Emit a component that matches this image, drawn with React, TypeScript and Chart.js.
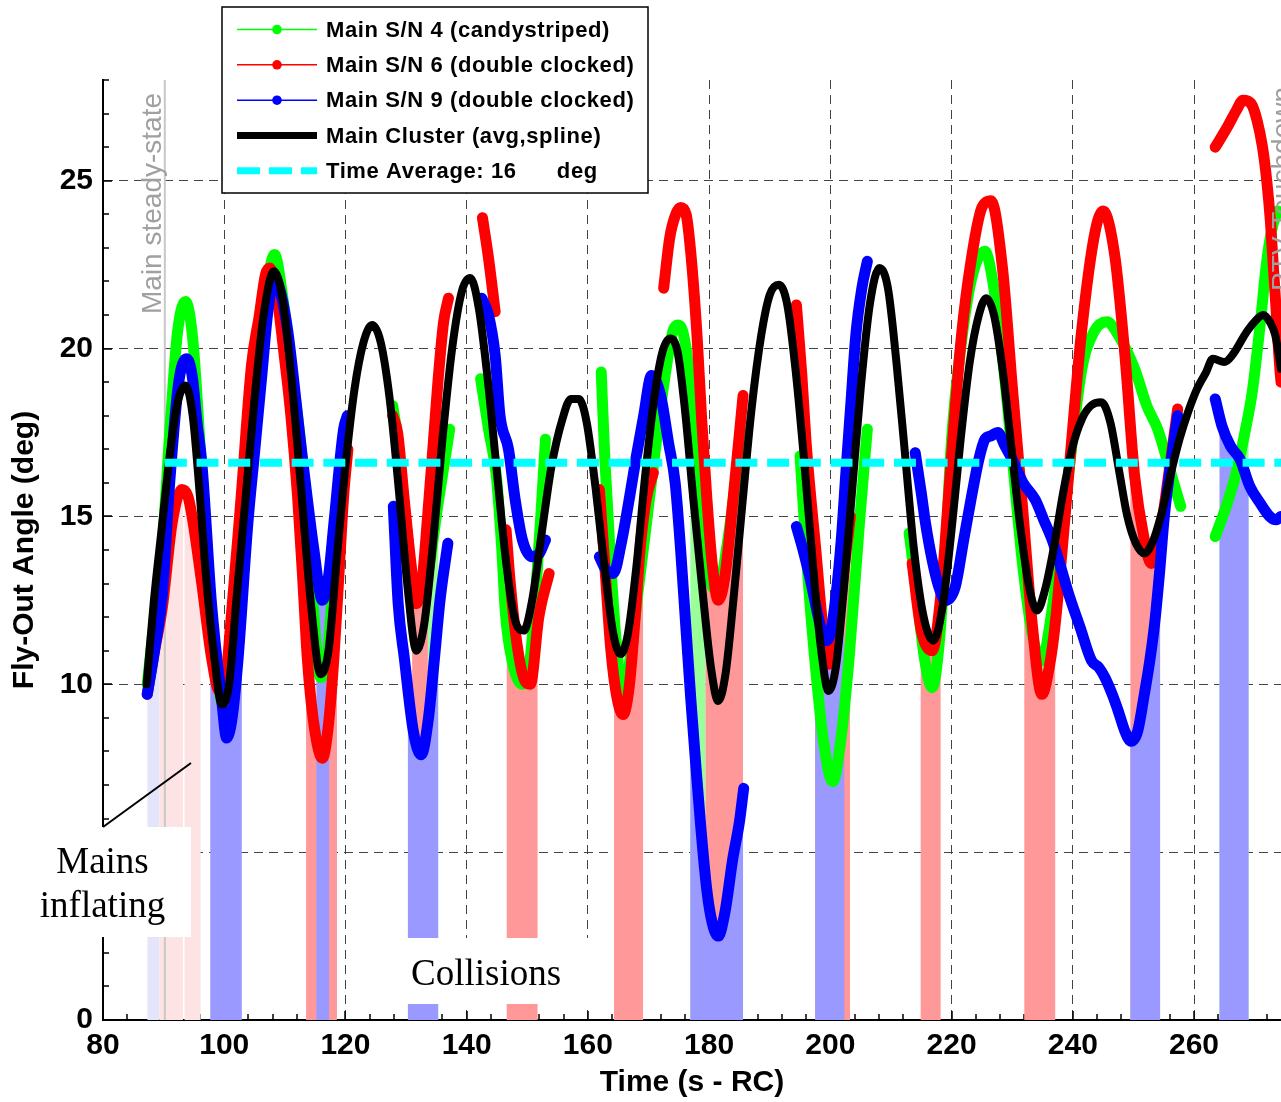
import React, { useEffect, useRef } from 'react';
import { Chart, registerables } from 'chart.js';

type Pt = [number, number];
type Win = [number, number];

// ---------- axes ----------
const X_MIN = 80;
const X_MAX = 274.35;
const Y_MIN = 0;
const Y_MAX = 28;
const X_MAJOR_STEP = 20;
const X_MINOR_STEP = 4;
const Y_MAJOR_STEP = 5;
const Y_MINOR_STEP = 1;
const X_TITLE = 'Time (s - RC)';
const Y_TITLE = 'Fly-Out Angle (deg)';

// ---------- reference lines ----------
const TIME_AVERAGE = 16.6;
const TIME_AVERAGE_RANGE: Win = [90.2, 274.35];
const STEADY_STATE_TIME = 90.2;

// ---------- Main S/N 4 (candystriped) ----------
const SN4_SEGMENTS: Pt[][] = [
  [[87.3,10.0],[88.5,12.0],[89.8,14.2],[91.2,18.0],[92.3,20.5],[93.6,21.4],[94.8,20.3],[96.3,16.3],[97.7,12.5],[99.0,10.0],[100.4,9.2],[101.5,9.8],[102.5,11.5],[103.9,15.6],[105.3,18.8],[106.8,21.5],[108.3,22.8],[109.6,21.6],[111.0,19.5],[112.6,17.2],[114.4,13.0],[115.9,10.2],[117.0,10.8],[118.5,14.5],[120.0,17.8]],
  [[127.8,18.3],[128.7,17.2],[129.7,15.3],[131.0,13.2],[132.0,12.5],[133.5,13.2],[135.3,15.4],[137.2,17.6]],
  [[142.3,19.1],[143.6,17.6],[144.9,16.2],[145.8,14.0],[146.4,12.1],[147.5,10.7],[149.2,10.0],[150.5,10.8],[151.5,13.0],[152.4,15.5],[153.0,17.3]],
  [[162.2,19.3],[162.8,16.7],[163.6,14.1],[164.7,11.2],[165.8,9.7],[167.0,10.8],[168.3,12.8],[169.2,14.1],[170.8,16.5],[172.5,18.9],[174.0,20.5],[174.8,20.7],[175.8,20.4],[176.9,18.9],[178.0,16.0],[179.0,14.2],[180.3,13.0],[181.5,12.8],[183.0,14.2],[184.5,16.2],[185.6,17.5]],
  [[195.0,16.8],[196.3,13.2],[197.4,10.8],[198.8,8.4],[200.4,7.1],[201.7,8.3],[203.1,10.8],[204.8,14.8],[206.1,17.6]],
  [[213.0,14.5],[214.0,13.1],[215.5,10.8],[216.8,9.9],[218.0,11.3],[219.0,14.0],[220.0,17.3],[221.5,20.0],[223.2,22.0],[225.5,22.9],[226.8,22.0],[228.9,18.9],[230.3,16.2],[231.7,13.6],[233.3,11.5],[234.9,10.7],[236.4,12.0],[238.2,14.5],[239.9,17.2],[241.5,19.4],[243.5,20.5],[245.6,20.8],[247.5,20.4],[250.2,19.4],[252.2,18.3],[254.0,17.6],[256.0,16.4],[257.8,15.3]],
  [[263.5,14.4],[265.5,15.4],[267.1,16.4],[268.5,17.6],[269.6,18.7],[270.9,20.7],[272.0,22.6],[272.9,23.6],[273.8,24.1]],
];

// ---------- Main S/N 6 (double clocked) ----------
const SN6_SEGMENTS: Pt[][] = [
  [[87.3,9.7],[88.5,11.0],[89.8,12.3],[91.4,14.8],[93.0,15.8],[94.0,15.6],[94.7,15.0],[96.3,13.0],[97.9,10.8],[99.2,9.8],[100.0,9.9],[101.2,12.1],[102.8,15.6],[104.5,19.5],[105.8,21.0],[106.8,22.2],[107.5,22.4],[108.5,21.8],[109.9,19.8],[111.0,18.0],[112.1,15.6],[113.0,13.0],[113.7,10.8],[114.8,8.8],[116.2,7.8],[117.2,8.8],[118.1,10.8],[119.0,13.5],[119.7,15.6],[120.4,17.0]],
  [[127.8,18.0],[128.6,17.5],[129.7,15.5],[130.8,13.6],[131.7,12.4],[132.6,13.0],[133.6,15.1],[134.5,17.2],[135.3,19.1],[136.2,20.8],[137.0,21.5]],
  [[142.6,23.9],[143.6,22.7],[144.7,21.1]],
  [[146.5,14.6],[147.2,13.0],[148.3,11.2],[149.6,10.1],[150.5,10.0],[151.9,12.0],[153.6,13.3]],
  [[161.9,15.8],[162.8,13.5],[163.8,11.0],[164.8,9.6],[165.8,9.1],[166.8,9.9],[167.8,12.0],[168.6,14.0],[169.6,15.5],[170.8,16.3]],
  [[172.5,21.8],[173.5,23.3],[174.5,24.0],[175.3,24.2],[176.2,24.0],[177.0,22.8],[178.0,20.4],[178.8,17.8],[179.6,15.6],[180.5,13.6],[181.5,12.5],[182.6,13.2],[184.0,15.6],[185.6,18.6]],
  [[194.4,21.3],[195.3,19.2],[196.0,17.2],[197.6,14.0],[199.0,11.3],[199.8,10.6],[200.8,11.2],[202.0,13.0],[203.3,15.0]],
  [[213.5,13.6],[215.0,11.6],[216.8,11.0],[218.2,12.6],[219.5,15.6],[220.5,18.0],[221.7,20.5],[223.2,22.6],[225.0,24.2],[226.5,24.4],[228.4,22.4],[230.0,18.9],[231.7,15.3],[233.3,11.8],[234.9,9.7],[236.2,10.6],[237.1,11.8],[239.3,16.2],[241.5,20.6],[243.7,23.5],[245.0,24.1],[246.9,22.8],[248.6,19.8],[250.2,16.2],[251.8,14.3],[252.9,13.6],[254.0,14.0],[255.1,15.3],[257.3,18.2]],
  [[263.5,26.0],[265.5,26.6],[267.0,27.1],[268.1,27.4],[269.4,27.3],[270.4,26.8],[271.3,26.0],[272.0,25.0],[272.6,23.8],[273.1,22.4],[273.6,21.0],[274.0,19.8],[274.35,19.0]],
];

// ---------- Main S/N 9 (double clocked) ----------
const SN9_SEGMENTS: Pt[][] = [
  [[87.3,9.7],[88.5,11.0],[89.8,12.7],[91.0,16.0],[92.5,19.0],[93.8,19.7],[94.7,19.2],[95.5,17.8],[96.3,16.6],[97.9,12.4],[99.6,9.5],[100.4,8.4],[101.3,9.0],[102.3,10.8],[103.9,14.8],[105.0,16.9],[106.2,19.2],[107.2,21.1],[108.3,22.1],[109.4,21.6],[110.5,20.5],[112.6,17.2],[114.8,14.0],[116.2,12.5],[117.2,13.2],[118.1,14.8],[119.7,17.6],[120.3,18.0]],
  [[127.9,15.3],[128.7,12.4],[129.7,10.8],[131.2,8.6],[132.5,7.9],[133.7,9.0],[134.7,10.8],[135.6,12.5],[136.9,14.2]],
  [[142.5,21.5],[143.6,21.0],[144.7,19.8],[145.5,18.0],[146.9,17.0],[148.0,15.5],[149.2,14.3],[150.8,13.8],[152.0,13.9],[153.0,14.3]],
  [[161.9,13.8],[163.0,13.4],[164.2,13.3],[165.5,14.2],[166.9,15.6],[168.0,16.8],[169.2,18.0],[170.5,19.2],[172.0,18.6],[173.3,17.2],[174.4,16.0],[175.3,14.0],[176.2,11.6],[177.0,9.5],[177.8,7.6],[178.6,5.8],[179.6,3.9],[180.5,2.9],[181.5,2.5],[182.6,3.2],[183.9,4.8],[185.0,5.9],[185.7,6.9]],
  [[194.4,14.7],[195.5,14.0],[196.6,13.2],[198.7,11.5],[199.3,11.3],[200.0,11.5],[200.9,12.6],[201.8,14.3],[202.6,16.4],[203.4,18.4],[204.2,20.4],[205.2,21.8],[206.1,22.6]],
  [[214.0,16.9],[215.0,15.7],[215.7,14.8],[216.8,13.7],[217.9,12.9],[219.0,12.5],[220.6,12.9],[222.0,14.3],[223.3,15.6],[224.5,16.7],[225.5,17.3],[226.5,17.4],[227.6,17.5],[228.8,17.1],[230.0,16.7],[231.8,16.0],[233.8,15.5],[235.2,14.9],[236.6,14.3],[238.0,13.5],[239.3,12.7],[241.2,11.7],[243.1,10.7],[244.3,10.5],[245.3,10.2],[246.5,9.7],[247.5,9.2],[248.6,8.6],[249.6,8.3],[250.7,8.6],[251.8,9.7],[252.7,10.7],[253.5,11.8],[254.3,13.3],[255.1,15.0],[256.2,16.6],[257.3,18.0]],
  [[263.5,18.5],[264.6,17.7],[266.0,17.1],[267.6,16.7],[269.2,15.9],[270.9,15.4],[272.5,15.0],[273.5,14.9],[274.35,15.0]],
];

// ---------- Main Cluster (avg, spline) ----------
const CLUSTER_SPLINE: Pt[] = [
  [87.2,10.0],[88.4,12.5],[89.6,14.5],[91.0,16.8],[92.2,18.3],[93.6,18.9],[94.8,18.0],[95.9,15.8],[97.0,13.2],[98.3,10.9],[99.6,9.4],[100.8,10.0],[102.0,12.5],[103.5,15.5],[105.0,18.5],[106.5,21.0],[108.2,22.3],[109.6,21.5],[111.0,19.3],[112.6,16.0],[114.3,12.4],[115.9,10.3],[117.2,11.0],[118.6,13.8],[120.0,16.5],[121.5,18.8],[123.0,20.2],[124.4,20.7],[125.8,20.2],[127.3,18.5],[128.8,15.8],[130.3,12.8],[131.7,11.0],[133.0,11.8],[134.5,14.3],[136.0,17.3],[137.6,20.0],[139.2,21.7],[140.6,22.1],[142.0,21.2],[143.4,19.2],[145.0,16.3],[146.6,13.5],[148.0,11.9],[149.4,11.6],[150.8,12.5],[152.3,14.4],[154.0,16.5],[155.8,17.9],[157.2,18.5],[158.5,18.5],[159.8,17.8],[161.3,15.8],[162.8,13.4],[164.2,11.5],[165.4,10.9],[166.6,11.5],[168.0,13.5],[169.5,16.3],[171.0,18.6],[172.3,19.9],[173.6,20.3],[174.8,19.9],[176.0,18.2],[177.4,15.5],[178.9,12.8],[180.3,10.5],[181.5,9.5],[182.7,10.3],[184.0,12.5],[185.5,15.4],[187.0,18.2],[188.6,20.4],[190.0,21.6],[191.5,21.9],[192.9,21.3],[194.3,19.3],[195.8,16.4],[197.2,13.4],[198.5,11.0],[199.7,9.8],[200.9,10.5],[202.2,12.8],[203.6,15.8],[205.0,18.8],[206.5,21.3],[208.1,22.4],[209.5,21.8],[210.9,19.6],[212.4,16.7],[213.8,14.0],[215.4,12.0],[217.0,11.3],[218.5,12.3],[220.0,14.6],[221.5,17.3],[223.0,19.6],[224.5,21.0],[225.7,21.5],[227.0,21.0],[228.4,19.4],[229.9,17.0],[231.4,14.6],[232.9,12.8],[234.1,12.2],[235.4,12.8],[236.9,14.1],[238.4,15.7],[240.0,17.1],[241.5,17.9],[243.0,18.3],[244.7,18.4],[246.2,17.8],[247.6,16.4],[249.0,15.0],[250.4,14.2],[251.8,13.9],[253.3,14.3],[254.8,15.2],[256.2,16.3],[257.6,17.3],[259.0,18.1],[260.5,18.8],[262.0,19.3],[263.1,19.7],[265.0,19.6],[266.3,19.8],[268.7,20.5],[270.0,20.8],[271.4,21.0],[272.5,20.8],[273.4,20.4],[274.35,19.4],
];

// ---------- shaded time windows (area under each curve) ----------
const SN9_INFLATING_WINDOWS: Win[] = [[86.9, 89.3]];
const SN6_INFLATING_WINDOWS: Win[] = [[89.3, 93.2], [93.45, 96.1]];
const SN6_COLLISION_WINDOWS: Win[] = [[113.5,118.6],[131.0,133.6],[146.6,151.7],[164.3,169.1],[179.4,185.6],[197.5,203.3],[214.9,218.2],[232.0,237.1],[249.5,254.4]];
const SN4_COLLISION_WINDOWS: Win[] = [[133.6,135.3],[176.9,179.4],[234.2,236.5],[264.2,269.0]];
const SN9_COLLISION_WINDOWS: Win[] = [[97.7,102.9],[115.2,117.3],[130.3,135.3],[176.9,185.6],[197.5,202.3],[249.5,254.4],[264.2,269.0]];

// ---------- text ----------
const LEGEND_LABELS = [
  'Main S/N 4 (candystriped)',
  'Main S/N 6 (double clocked)',
  'Main S/N 9 (double clocked)',
  'Main Cluster (avg,spline)',
  'Time Average: 16      deg',
];
const STEADY_STATE_LABEL = 'Main steady-state';
const TOUCHDOWN_LABEL = 'PTV Touchdown';
const INFLATING_LABEL = ['Mains', 'inflating'];
const COLLISIONS_LABEL = 'Collisions';

// ---------- styles ----------
const GREEN = '#00ff00';
const RED = '#ff0000';
const BLUE = '#0000ff';
const CYAN = '#00ffff';
const SANS = "'Liberation Sans', Arial, Helvetica, sans-serif";
const SERIF = "'Liberation Serif', 'Times New Roman', serif";

function toData(segs: Pt[][]) {
  const out: { x: number; y: number | null }[] = [];
  segs.forEach((seg, i) => {
    if (i > 0) {
      const prev = segs[i - 1];
      out.push({ x: (prev[prev.length - 1][0] + seg[0][0]) / 2, y: null });
    }
    seg.forEach(([x, y]) => out.push({ x, y }));
  });
  return out;
}

// clip fill datasets to their time windows (registered before Filler so it runs first)
const windowClip = {
  id: 'windowClip',
  beforeDatasetDraw(chart: any, args: any) {
    const ds = chart.data.datasets[args.index];
    if (!ds.clipWindows) return;
    const { ctx, chartArea: a } = chart;
    const xs = chart.scales.x;
    ctx.save();
    ctx.beginPath();
    for (const [x0, x1] of ds.clipWindows as Win[]) {
      const p0 = xs.getPixelForValue(x0);
      const p1 = xs.getPixelForValue(x1);
      ctx.rect(p0, a.top, p1 - p0, a.bottom - a.top);
    }
    ctx.clip();
  },
  afterDatasetDraw(chart: any, args: any) {
    const ds = chart.data.datasets[args.index];
    if (ds.clipWindows) chart.ctx.restore();
  },
};

Chart.register(windowClip as any);
Chart.register(...registerables);

const axisTicks = {
  id: 'axisTicks',
  beforeDatasetsDraw(chart: any) {
    const { ctx, chartArea: a } = chart;
    const xs = chart.scales.x;
    const ys = chart.scales.y;
    ctx.save();
    ctx.strokeStyle = '#000';
    ctx.lineWidth = 1.5;
    ctx.beginPath();
    for (let v = X_MIN + X_MINOR_STEP; v <= X_MAX; v += X_MINOR_STEP) {
      const major = Math.abs(((v - X_MIN) % X_MAJOR_STEP)) < 1e-6;
      const p = Math.round(xs.getPixelForValue(v));
      ctx.moveTo(p, a.bottom);
      ctx.lineTo(p, a.bottom - (major ? 9 : 6));
    }
    for (let v = Y_MIN + Y_MINOR_STEP; v <= Y_MAX; v += Y_MINOR_STEP) {
      const major = Math.abs(v % Y_MAJOR_STEP) < 1e-6;
      const p = Math.round(ys.getPixelForValue(v));
      ctx.moveTo(a.left, p);
      ctx.lineTo(a.left + (major ? 9 : 6), p);
    }
    ctx.stroke();
    ctx.restore();
  },
};

const annotations = {
  id: 'annotations',
  afterDatasetsDraw(chart: any) {
    const { ctx } = chart;
    const xs = chart.scales.x;
    ctx.save();
    ctx.fillStyle = '#a0a0a0';
    ctx.font = `28px ${SANS}`;
    ctx.textAlign = 'right';
    ctx.textBaseline = 'alphabetic';
    // Main steady-state
    ctx.save();
    ctx.translate(xs.getPixelForValue(STEADY_STATE_TIME) - 4, 93);
    ctx.rotate(-Math.PI / 2);
    ctx.fillText(STEADY_STATE_LABEL, 0, 0);
    ctx.restore();
    // PTV Touchdown
    ctx.save();
    ctx.translate(xs.getPixelForValue(275.95), 87);
    ctx.rotate(-Math.PI / 2);
    ctx.fillText(TOUCHDOWN_LABEL, 0, 0);
    ctx.restore();
    ctx.restore();
  },
  afterDraw(chart: any) {
    const { ctx } = chart;
    ctx.save();
    // Mains inflating box + pointer line
    ctx.fillStyle = '#fff';
    ctx.fillRect(14, 827, 177, 110);
    ctx.strokeStyle = '#000';
    ctx.lineWidth = 2;
    ctx.beginPath();
    ctx.moveTo(103, 827);
    ctx.lineTo(191, 763);
    ctx.stroke();
    ctx.fillStyle = '#000';
    ctx.font = `37px ${SERIF}`;
    ctx.textAlign = 'center';
    ctx.textBaseline = 'alphabetic';
    ctx.fillText(INFLATING_LABEL[0], 102.5, 873);
    ctx.fillText(INFLATING_LABEL[1], 102.5, 917);
    // Collisions box
    ctx.fillStyle = '#fff';
    ctx.fillRect(400, 938, 195, 66);
    ctx.fillStyle = '#000';
    ctx.textAlign = 'left';
    ctx.fillText(COLLISIONS_LABEL, 411, 985);

    // Legend
    const L = 222, T = 7, R = 648, B = 193;
    ctx.fillStyle = '#fff';
    ctx.fillRect(L, T, R - L, B - T);
    ctx.strokeStyle = '#000';
    ctx.lineWidth = 1.5;
    ctx.strokeRect(L, T, R - L, B - T);
    const rows = [29.5, 64.8, 100.2, 135.5, 170.8];
    const styles = [
      { c: GREEN, w: 1.5, m: true, d: [] as number[] },
      { c: RED, w: 1.5, m: true, d: [] as number[] },
      { c: BLUE, w: 1.5, m: true, d: [] as number[] },
      { c: '#000', w: 7, m: false, d: [] as number[] },
      { c: CYAN, w: 7, m: false, d: [23, 9] },
    ];
    rows.forEach((y, i) => {
      const s = styles[i];
      ctx.save();
      ctx.strokeStyle = s.c;
      ctx.lineWidth = s.w;
      ctx.setLineDash(s.d);
      ctx.beginPath();
      ctx.moveTo(237, y);
      ctx.lineTo(317, y);
      ctx.stroke();
      if (s.m) {
        ctx.fillStyle = s.c;
        ctx.beginPath();
        ctx.arc(277, y, 4.8, 0, Math.PI * 2);
        ctx.fill();
      }
      ctx.restore();
      ctx.fillStyle = '#000';
      ctx.font = `bold 22px ${SANS}`;
      try { (ctx as any).letterSpacing = '0.6px'; } catch (e) {}
      ctx.textAlign = 'left';
      ctx.textBaseline = 'middle';
      ctx.fillText(LEGEND_LABELS[i], 326, y + 1);
      try { (ctx as any).letterSpacing = '0px'; } catch (e) {}
    });
    ctx.restore();
  },
};

function seriesLine(segs: Pt[][], color: string, order: number) {
  return {
    data: toData(segs),
    borderColor: color,
    backgroundColor: color,
    borderWidth: 11,
    pointRadius: 0,
    borderCapStyle: 'round',
    borderJoinStyle: 'round',
    cubicInterpolationMode: 'monotone',
    fill: false,
    order,
  };
}

function seriesFill(segs: Pt[][], color: string, windows: Win[], order: number) {
  return {
    data: toData(segs),
    borderColor: 'rgba(0,0,0,0)',
    backgroundColor: color,
    borderWidth: 0,
    pointRadius: 0,
    cubicInterpolationMode: 'monotone',
    fill: 'origin',
    clipWindows: windows,
    order,
  };
}

export default function App() {
  const ref = useRef<HTMLCanvasElement>(null);
  useEffect(() => {
    const canvas = ref.current;
    if (!canvas) return;
    const clusterData = CLUSTER_SPLINE.map(([x, y]) => ({ x, y }));
    const chart = new Chart(canvas, {
      type: 'line',
      data: {
        datasets: [
          seriesFill(SN9_SEGMENTS, '#e4e4fa', SN9_INFLATING_WINDOWS, 12),
          seriesFill(SN6_SEGMENTS, '#fde3e3', SN6_INFLATING_WINDOWS, 11),
          seriesFill(SN4_SEGMENTS, '#99ff99', SN4_COLLISION_WINDOWS, 10),
          seriesFill(SN6_SEGMENTS, '#ff9999', SN6_COLLISION_WINDOWS, 9),
          seriesFill(SN9_SEGMENTS, '#9999ff', SN9_COLLISION_WINDOWS, 8),
          {
            data: [{ x: STEADY_STATE_TIME, y: Y_MIN }, { x: STEADY_STATE_TIME, y: Y_MAX }],
            borderColor: '#c8c8c8',
            borderWidth: 2,
            pointRadius: 0,
            fill: false,
            order: 7,
          },
          seriesLine(SN4_SEGMENTS, GREEN, 6),
          seriesLine(SN6_SEGMENTS, RED, 5),
          seriesLine(SN9_SEGMENTS, BLUE, 4),
          {
            data: clusterData,
            borderColor: '#000',
            borderWidth: 8,
            pointRadius: 0,
            borderCapStyle: 'round',
            borderJoinStyle: 'round',
            cubicInterpolationMode: 'monotone',
            fill: false,
            order: 3,
          },
          {
            data: [{ x: TIME_AVERAGE_RANGE[0], y: TIME_AVERAGE }, { x: TIME_AVERAGE_RANGE[1], y: TIME_AVERAGE }],
            borderColor: CYAN,
            borderWidth: 8,
            borderDash: [22, 9.7],
            borderCapStyle: 'butt',
            pointRadius: 0,
            fill: false,
            order: 2,
          },
        ] as any,
      },
      options: {
        responsive: false,
        animation: false,
        devicePixelRatio: 1,
        layout: { padding: { top: 80, left: 0, right: 0, bottom: 0 } },
        plugins: {
          legend: { display: false },
          tooltip: { enabled: false },
          title: { display: false },
        },
        scales: {
          x: {
            type: 'linear',
            min: X_MIN,
            max: X_MAX,
            afterFit: (s: any) => { s.height = 82; },
            ticks: {
              stepSize: X_MAJOR_STEP,
              includeBounds: false,
              autoSkip: false,
              maxRotation: 0,
              color: '#000',
              padding: 8,
              font: { family: SANS, size: 30, weight: 'bold' },
            },
            grid: { color: '#444', lineWidth: 1, drawTicks: false },
            border: { display: true, color: '#000', width: 2, dash: [9, 6] },
            title: {
              display: true,
              text: X_TITLE,
              color: '#000',
              font: { family: SANS, size: 30, weight: 'bold' },
              padding: { top: 0, bottom: 1 },
            },
          },
          y: {
            type: 'linear',
            min: Y_MIN,
            max: Y_MAX,
            afterFit: (s: any) => { s.width = 103; },
            ticks: {
              stepSize: Y_MAJOR_STEP,
              includeBounds: false,
              color: '#000',
              padding: 10,
              font: { family: SANS, size: 30, weight: 'bold' },
            },
            grid: { color: '#444', lineWidth: 1, drawTicks: false },
            border: { display: true, color: '#000', width: 2, dash: [9, 6] },
            title: {
              display: true,
              text: Y_TITLE,
              color: '#000',
              font: { family: SANS, size: 30, weight: 'bold' },
              padding: { top: 7, bottom: 0 },
            },
          },
        },
      } as any,
      plugins: [axisTicks, annotations] as any,
    });
    return () => chart.destroy();
  }, []);
  return (
    <div style={{ position: 'absolute', left: 0, top: 0, width: 1281, height: 1102, background: '#fff' }}>
      <canvas ref={ref} width={1281} height={1102} style={{ display: 'block', width: 1281, height: 1102 }} />
    </div>
  );
}
